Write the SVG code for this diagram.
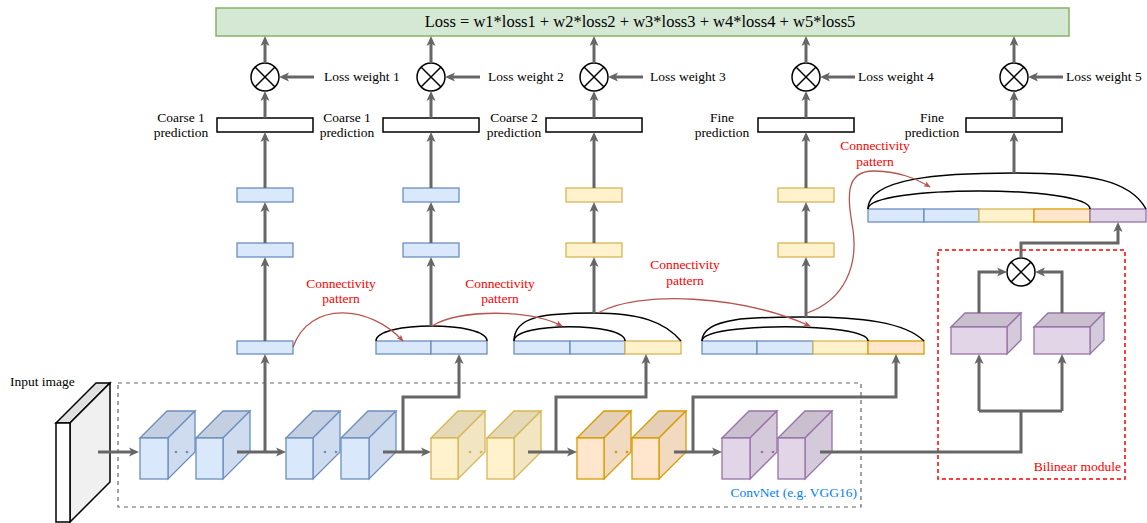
<svg xmlns="http://www.w3.org/2000/svg" width="1147" height="523" viewBox="0 0 1147 523">
<defs>
<style>
.t{font-family:"Liberation Serif","Times New Roman",serif;font-size:13.5px;fill:#000}
.red{fill:#ff0000}
.blue-t{fill:#007fff}
.ar{fill:none;stroke:#666;stroke-width:3;marker-end:url(#ah)}
.ln{fill:none;stroke:#666;stroke-width:3}
.rc{fill:none;stroke:#b85450;stroke-width:1.3;marker-end:url(#rh)}
.arc{fill:none;stroke:#000;stroke-width:1.5}
.bF{fill:#dae8fc;stroke:#6c8ebf;stroke-width:1.3}
.bT{fill:#c4d0e2;stroke:#6c8ebf;stroke-width:1.3}
.bS{fill:#cfdcef;stroke:#6c8ebf;stroke-width:1.3}
.yF{fill:#fff2cc;stroke:#d6b656;stroke-width:1.3}
.yT{fill:#e5d9b7;stroke:#d6b656;stroke-width:1.3}
.yS{fill:#f2e5c1;stroke:#d6b656;stroke-width:1.3}
.oF{fill:#ffe6cc;stroke:#d79b00;stroke-width:1.3}
.oT{fill:#e5cfb7;stroke:#d79b00;stroke-width:1.3}
.oS{fill:#f2dac1;stroke:#d79b00;stroke-width:1.3}
.pF{fill:#e1d5e7;stroke:#9673a6;stroke-width:1.3}
.pT{fill:#cabfcf;stroke:#9673a6;stroke-width:1.3}
.pS{fill:#d5cadb;stroke:#9673a6;stroke-width:1.3}
.pred{fill:#fff;stroke:#000;stroke-width:1.5}
.mul{fill:#fff;stroke:#000;stroke-width:1.5}
.x{stroke:#000;stroke-width:1.5}
</style>
<marker id="ah" viewBox="0 0 10 10" refX="6" refY="5" markerWidth="10" markerHeight="10" markerUnits="userSpaceOnUse" orient="auto">
<path d="M0,0.5 L10,5 L0,9.5 L2.5,5 z" fill="#666"/>
</marker>
<marker id="rh" viewBox="0 0 10 10" refX="9" refY="5" markerWidth="7" markerHeight="7" markerUnits="userSpaceOnUse" orient="auto">
<path d="M0,1 L10,5 L0,9 L2.5,5 z" fill="#b85450"/>
</marker>
</defs>
<rect width="1147" height="523" fill="#fff"/>

<!-- Loss bar -->
<g id="loss">
<rect x="216" y="8" width="853" height="28" fill="#d5e8d4" stroke="#82b366" stroke-width="1.5"/>
<text class="t" x="640" y="27" text-anchor="middle" style="font-size:16.5px">Loss = w1*loss1 + w2*loss2 + w3*loss3 + w4*loss4 + w5*loss5</text>
</g>

<!-- Multiplication nodes -->
<g id="mul1"><circle class="mul" cx="265" cy="77" r="14"/><path class="x" d="M255,67 L275,87 M275,67 L255,87"/></g>
<g id="mul2"><circle class="mul" cx="431" cy="77" r="14"/><path class="x" d="M421,67 L441,87 M441,67 L421,87"/></g>
<g id="mul3"><circle class="mul" cx="594" cy="77" r="14"/><path class="x" d="M584,67 L604,87 M604,67 L584,87"/></g>
<g id="mul4"><circle class="mul" cx="806" cy="77" r="14"/><path class="x" d="M796,67 L816,87 M816,67 L796,87"/></g>
<g id="mul5"><circle class="mul" cx="1014" cy="77" r="14"/><path class="x" d="M1004,67 L1024,87 M1024,67 L1004,87"/></g>

<g id="lw1"><text class="t" x="324" y="81">Loss weight 1</text></g>
<g id="lw2"><text class="t" x="488" y="81">Loss weight 2</text></g>
<g id="lw3"><text class="t" x="650" y="81">Loss weight 3</text></g>
<g id="lw4"><text class="t" x="858" y="81">Loss weight 4</text></g>
<g id="lw5"><text class="t" x="1066" y="81">Loss weight 5</text></g>

<!-- Predictions -->
<g id="pred1"><rect class="pred" x="217" y="118" width="96" height="14"/>
<text class="t" x="181" y="122" text-anchor="middle">Coarse 1</text><text class="t" x="181" y="137" text-anchor="middle">prediction</text></g>
<g id="pred2"><rect class="pred" x="383" y="118" width="96" height="14"/>
<text class="t" x="347" y="122" text-anchor="middle">Coarse 1</text><text class="t" x="347" y="137" text-anchor="middle">prediction</text></g>
<g id="pred3"><rect class="pred" x="546" y="118" width="96" height="14"/>
<text class="t" x="514" y="122" text-anchor="middle">Coarse 2</text><text class="t" x="514" y="137" text-anchor="middle">prediction</text></g>
<g id="pred4"><rect class="pred" x="758" y="118" width="96" height="14"/>
<text class="t" x="722" y="122" text-anchor="middle">Fine</text><text class="t" x="722" y="137" text-anchor="middle">prediction</text></g>
<g id="pred5"><rect class="pred" x="966" y="118" width="96" height="14"/>
<text class="t" x="932" y="122" text-anchor="middle">Fine</text><text class="t" x="932" y="137" text-anchor="middle">prediction</text></g>

<!-- FC layers -->
<g id="fc1a"><rect class="bF" x="237" y="188" width="56" height="14"/></g>
<g id="fc1b"><rect class="bF" x="237" y="243" width="56" height="14"/></g>
<g id="fc2a"><rect class="bF" x="403" y="188" width="56" height="14"/></g>
<g id="fc2b"><rect class="bF" x="403" y="243" width="56" height="14"/></g>
<g id="fc3a"><rect class="yF" x="566" y="188" width="56" height="14"/></g>
<g id="fc3b"><rect class="yF" x="566" y="243" width="56" height="14"/></g>
<g id="fc4a"><rect class="yF" x="778" y="188" width="56" height="14"/></g>
<g id="fc4b"><rect class="yF" x="778" y="243" width="56" height="14"/></g>

<!-- Concat features -->
<g id="feat1"><rect class="bF" x="237" y="341" width="56" height="13"/></g>
<g id="feat2">
<rect class="bF" x="376" y="341" width="55" height="13"/><rect class="bF" x="431" y="341" width="56" height="13"/>
<path class="arc" d="M376,341 C376,321 487,321 487,341"/>
</g>
<g id="feat3">
<rect class="bF" x="514" y="341" width="56" height="13"/><rect class="bF" x="570" y="341" width="55" height="13"/><rect class="yF" x="625" y="341" width="56" height="13"/>
<path class="arc" d="M514,341 C514,322 625,322 625,341"/>
<path class="arc" d="M514,341 C514,316 545,313 594,313 C640,313 665,322 681,341"/>
</g>
<g id="feat4">
<rect class="bF" x="702" y="341" width="55" height="13"/><rect class="bF" x="757" y="341" width="56" height="13"/><rect class="yF" x="813" y="341" width="55" height="13"/><rect class="oF" x="868" y="341" width="56" height="13"/>
<path class="arc" d="M702,341 C702,322 868,322 868,341"/>
<path class="arc" d="M702,341 C702,316 760,317 806,317 C860,317 905,322 924,341"/>
</g>
<g id="feat5">
<rect class="bF" x="868" y="209" width="56" height="13"/><rect class="bF" x="924" y="209" width="55" height="13"/><rect class="yF" x="979" y="209" width="55" height="13"/><rect class="oF" x="1034" y="209" width="56" height="13"/><rect class="pF" x="1090" y="209" width="56" height="13"/>
<path class="arc" d="M868,209 C868,185 1090,185 1090,209"/>
<path class="arc" d="M868,209 C868,178 940,173 1014,173 C1090,173 1130,180 1146,209"/>
</g>

<!-- Connectivity labels -->
<g id="cp1"><text class="t red" x="341" y="288" text-anchor="middle">Connectivity</text><text class="t red" x="341" y="303" text-anchor="middle">pattern</text></g>
<g id="cp2"><text class="t red" x="500" y="288" text-anchor="middle">Connectivity</text><text class="t red" x="500" y="303" text-anchor="middle">pattern</text></g>
<g id="cp3"><text class="t red" x="685" y="269" text-anchor="middle">Connectivity</text><text class="t red" x="685" y="285" text-anchor="middle">pattern</text></g>
<g id="cp4"><text class="t red" x="875" y="150" text-anchor="middle">Connectivity</text><text class="t red" x="875" y="166" text-anchor="middle">pattern</text></g>

<!-- ConvNet -->
<g id="convnet">
<rect x="118" y="383" width="743" height="124" fill="none" stroke="#666" stroke-width="1.2" stroke-dasharray="4,4"/>
<text class="t blue-t" x="857" y="497" text-anchor="end">ConvNet (e.g. VGG16)</text>
</g>

<g id="input">
<polygon points="56,423 96,383 110,383 70,423" fill="#e0e0e0" stroke="#000" stroke-width="1.5"/>
<polygon points="70,423 110,383 110,482 70,522" fill="#f0f0f0" stroke="#000" stroke-width="1.5"/>
<rect x="56" y="423" width="14" height="99" fill="#fff" stroke="#000" stroke-width="1.5"/>
<text class="t" x="10" y="386">Input image</text>
</g>

<g id="convA"><polygon class="bT" points="140,438 167,411 195,411 168,438"/><polygon class="bS" points="168,438 195,411 195,452 168,479"/><rect class="bF" x="140" y="438" width="28" height="41"/><circle cx="176" cy="452" r="1.3" fill="#6c8ebf"/><circle cx="187" cy="452" r="1.3" fill="#6c8ebf"/></g>
<g id="convB"><polygon class="bT" points="196,438 223,411 250,411 223,438"/><polygon class="bS" points="223,438 250,411 250,452 223,479"/><rect class="bF" x="196" y="438" width="27" height="41"/></g>
<g id="convC"><polygon class="bT" points="286,438 313,411 340,411 313,438"/><polygon class="bS" points="313,438 340,411 340,452 313,479"/><rect class="bF" x="286" y="438" width="27" height="41"/><circle cx="325" cy="452" r="1.3" fill="#6c8ebf"/><circle cx="336" cy="452" r="1.3" fill="#6c8ebf"/></g>
<g id="convD"><polygon class="bT" points="341,438 368,411 396,411 369,438"/><polygon class="bS" points="369,438 396,411 396,452 369,479"/><rect class="bF" x="341" y="438" width="28" height="41"/></g>
<g id="convE"><polygon class="yT" points="431,438 458,411 485,411 458,438"/><polygon class="yS" points="458,438 485,411 485,452 458,479"/><rect class="yF" x="431" y="438" width="27" height="41"/><circle cx="470" cy="452" r="1.3" fill="#d6b656"/><circle cx="481" cy="452" r="1.3" fill="#d6b656"/></g>
<g id="convF"><polygon class="yT" points="487,438 514,411 541,411 514,438"/><polygon class="yS" points="514,438 541,411 541,452 514,479"/><rect class="yF" x="487" y="438" width="27" height="41"/></g>
<g id="convG"><polygon class="oT" points="577,438 604,411 631,411 604,438"/><polygon class="oS" points="604,438 631,411 631,452 604,479"/><rect class="oF" x="577" y="438" width="27" height="41"/><circle cx="616" cy="452" r="1.3" fill="#d79b00"/><circle cx="627" cy="452" r="1.3" fill="#d79b00"/></g>
<g id="convH"><polygon class="oT" points="632,438 659,411 686,411 659,438"/><polygon class="oS" points="659,438 686,411 686,452 659,479"/><rect class="oF" x="632" y="438" width="27" height="41"/></g>
<g id="convI"><polygon class="pT" points="722,438 749,411 777,411 750,438"/><polygon class="pS" points="750,438 777,411 777,452 750,479"/><rect class="pF" x="722" y="438" width="28" height="41"/><circle cx="762" cy="452" r="1.3" fill="#9673a6"/><circle cx="773" cy="452" r="1.3" fill="#9673a6"/></g>
<g id="convJ"><polygon class="pT" points="778,438 805,411 832,411 805,438"/><polygon class="pS" points="805,438 832,411 832,452 805,479"/><rect class="pF" x="778" y="438" width="27" height="41"/></g>

<!-- Bilinear module -->
<g id="bilinear">
<rect x="938" y="250" width="187" height="229" fill="none" stroke="#ff0000" stroke-width="1.5" stroke-dasharray="4,3"/>
<text class="t red" x="1121" y="471" text-anchor="end">Bilinear module</text>
</g>
<g id="bil1"><polygon class="pT" points="951,327 965,313 1021,313 1007,327"/><polygon class="pS" points="1007,327 1021,313 1021,340 1007,354"/><rect class="pF" x="951" y="327" width="56" height="27"/></g>
<g id="bil2"><polygon class="pT" points="1034,327 1048,313 1104,313 1090,327"/><polygon class="pS" points="1090,327 1104,313 1104,340 1090,354"/><rect class="pF" x="1034" y="327" width="56" height="27"/></g>
<g id="bilmul"><circle class="mul" cx="1021" cy="272" r="14"/><path class="x" d="M1011,262 L1031,282 M1031,262 L1011,282"/></g>

<!-- Connectors -->
<g id="connectors">
<path class="ar" d="M265,63 V40"/><path class="ar" d="M431,63 V40"/><path class="ar" d="M594,63 V40"/><path class="ar" d="M806,63 V40"/><path class="ar" d="M1014,63 V40"/>
<path class="ar" d="M265,118 V95"/><path class="ar" d="M431,118 V95"/><path class="ar" d="M594,118 V95"/><path class="ar" d="M806,118 V95"/><path class="ar" d="M1014,118 V95"/>
<path class="ar" d="M314,77 H283"/><path class="ar" d="M480,77 H449"/><path class="ar" d="M643,77 H612"/><path class="ar" d="M855,77 H824"/><path class="ar" d="M1063,77 H1032"/>
<path class="ar" d="M265,188 V136"/><path class="ar" d="M431,188 V136"/><path class="ar" d="M594,188 V136"/><path class="ar" d="M806,188 V136"/>
<path class="ar" d="M265,243 V206"/><path class="ar" d="M431,243 V206"/><path class="ar" d="M594,243 V206"/><path class="ar" d="M806,243 V206"/>
<path class="ar" d="M265,341 V261"/><path class="ar" d="M431,326 V261"/><path class="ar" d="M594,313 V261"/><path class="ar" d="M806,317 V261"/>
<path class="ar" d="M1014,173 V136"/>

<path class="ar" d="M98,452 H135"/>
<path class="ar" d="M237,452 H282"/>
<path class="ar" d="M265,452 V358"/>
<path class="ar" d="M383,452 H427"/>
<path class="ar" d="M403,452 V397 H459 V358"/>
<path class="ar" d="M528,452 H573"/>
<path class="ar" d="M556,452 V397 H646 V358"/>
<path class="ar" d="M674,452 H718"/>
<path class="ar" d="M693,452 V397 H896 V358"/>
<path class="ln" d="M820,452 H1021 V411"/>
<path class="ln" d="M979,411 H1062"/>
<path class="ar" d="M979,411 V358"/>
<path class="ar" d="M1062,411 V358"/>
<path class="ar" d="M979,313 V272 H1003"/>
<path class="ar" d="M1062,313 V272 H1039"/>
<path class="ar" d="M1021,258 V243 H1118 V226"/>

<path class="rc" d="M293,347 C310,300 370,305 403,341"/>
<path class="rc" d="M432,326 C460,309 530,309 562,326"/>
<path class="rc" d="M598,313 C640,290 740,295 810,326"/>
<path class="rc" d="M807,313 C845,300 858,265 853,230 C848,200 843,170 875,171 C900,172 915,178 930,187"/>
</g>
</svg>
